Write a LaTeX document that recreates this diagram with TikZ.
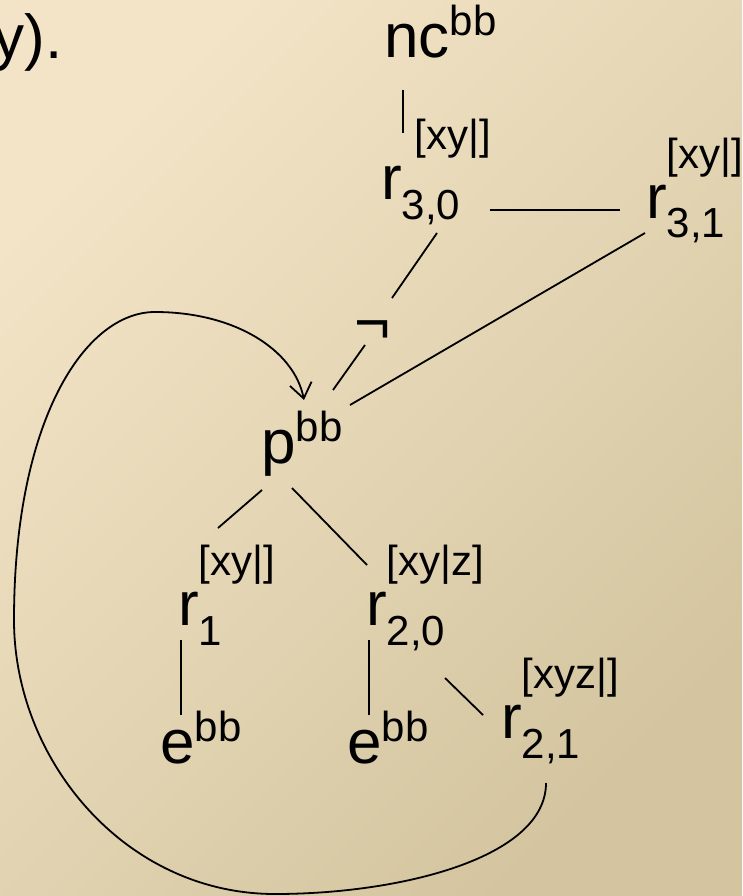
\documentclass[tikz,border=0pt]{standalone}
\usepackage{fontspec}
\setmainfont{Liberation Sans}
\usetikzlibrary{arrows.meta}

\definecolor{bgtop}{RGB}{243,228,199}
\definecolor{bgbot}{RGB}{212,197,160}

\newcommand{\bigsz}{\fontsize{62}{70}\selectfont}
\newcommand{\smallsz}{\fontsize{42}{48}\selectfont}
\newcommand{\bbsup}{\raisebox{22pt}{\smallsz bb}}
\newcommand{\rsub}[3][0pt]{r\rlap{\hspace{#1}\raisebox{50pt}{\smallsz #3}}\raisebox{-20pt}{\smallsz #2}}

\tikzset{
  term/.style={inner sep=0pt, anchor=base west, font=\bigsz},
  edge/.style={line width=1.8pt, black},
}

\begin{document}
\begin{tikzpicture}[x=1pt, y=-1pt]
  \shade[top color=bgtop, bottom color=bgbot, shading angle=45] (0,0) rectangle (742,896);
  \useasboundingbox (0,0) rectangle (742,896);
  \node[term, anchor=base east] (cut) at (63,59) {y).};
  \node[term] (nc) at (384,58) {nc\bbsup};
  \node[term] (r30) at (381,200) {\rsub[13pt]{3,0}{[xy|]}};
  \node[term] (r31) at (646,218) {\rsub{3,1}{[xy|]}};
  \node[term, anchor=center] (neg) at (373,332) {¬};
  \node[term] (p) at (261,463) {p\bbsup};
  \node[term] (r1) at (178,625) {\rsub{1}{[xy|]}};
  \node[term] (r20) at (366,625) {\rsub{2,0}{[xy|z]}};
  \node[term] (e1) at (160,763) {e\bbsup};
  \node[term] (e2) at (347,763) {e\bbsup};
  \node[term] (r21) at (501,738) {\rsub{2,1}{[xyz|]}};
  \coordinate (loopbot) at (275,894);
  \coordinate (loopleft) at (14,620);
  \coordinate (looptop) at (155,312);
  \draw[edge] ([shift={(19,32)}]nc.base west) -- ([shift={(22,-67)}]r30.base west);
  \draw[edge] ([shift={(109,10)}]r30.base west) -- ([shift={(-26,-8)}]r31.base west);
  \draw[edge] ([shift={(56,33)}]r30.base west) -- ([shift={(19,-34)}]neg.center);
  \draw[edge] ([shift={(-8,13)}]neg.center) -- ([shift={(72,-73)}]p.base west);
  \draw[edge] ([shift={(-1,15)}]r31.base west) -- ([shift={(89,-58)}]p.base west);
  \draw[edge] ([shift={(1,27)}]p.base west) -- ([shift={(40,-97)}]r1.base west);
  \draw[edge] ([shift={(31,25)}]p.base west) -- ([shift={(1,-60)}]r20.base west);
  \draw[edge] ([shift={(3,15)}]r1.base west) -- ([shift={(21,-48)}]e1.base west);
  \draw[edge] ([shift={(3,15)}]r20.base west) -- ([shift={(22,-48)}]e2.base west);
  \draw[edge] ([shift={(79,53)}]r20.base west) -- ([shift={(-18,-23)}]r21.base west);
  \draw[edge, -{Straight Barb[length=15pt, width=22pt]}]
    ([shift={(45,45)}]r21.base west) .. controls +(0,75) and +(125,0) .. (loopbot)
    .. controls +(-150,0) and +(0,140) .. (loopleft)
    .. controls +(0,-200) and +(-70,0) .. (looptop)
    .. controls +(80,0) and +(-10,-50) .. ([shift={(43,-63)}]p.base west);
\end{tikzpicture}
\end{document}
